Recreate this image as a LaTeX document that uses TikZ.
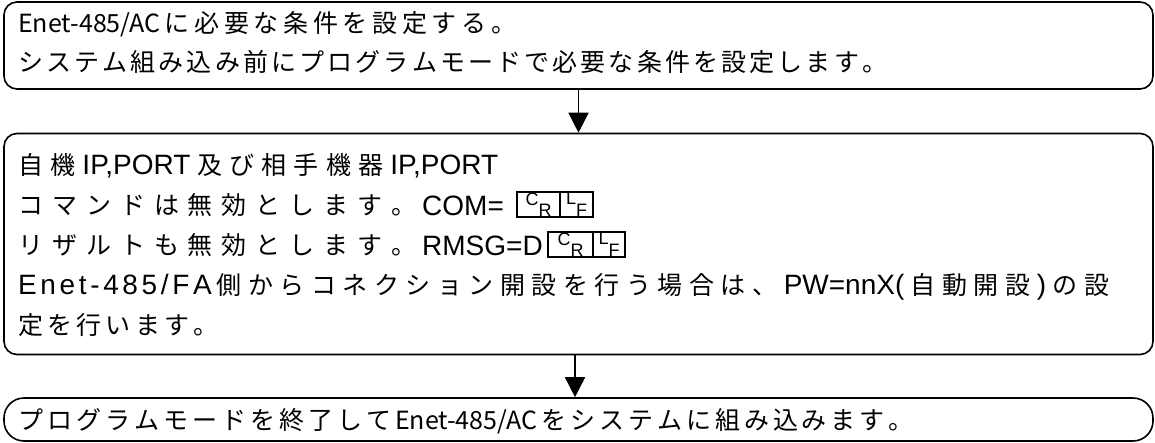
\documentclass[tikz,border=0pt]{standalone}
\usepackage{fontspec}
\usetikzlibrary{arrows.meta}
\newfontfamily\jp{Noto Sans CJK JP}
\newfontfamily\lat{Liberation Sans}
\ExplSyntaxOn
\box_new:N \l__sp_box
\dim_new:N \l__sp_dim
\int_new:N \l__sp_int
\NewDocumentCommand \spread { m m }
  {
    \hbox_set:Nn \l__sp_box { #2 }
    \int_set:Nn \l__sp_int { \tl_count:n { #2 } - 1 }
    \dim_set:Nn \l__sp_dim
      { ( \dim_eval:n { #1 } - \box_wd:N \l__sp_box ) / \l__sp_int }
    \hbox_to_wd:nn { \dim_eval:n { #1 } }
      {
        \tl_map_inline:nn { #2 } { ##1 \hskip \l__sp_dim }
        \hskip -\l__sp_dim
      }
  }
\ExplSyntaxOff
\newcommand\lt[1]{{\lat\fontsize{28}{30}\selectfont #1}}
\newcommand\crlf[2]{\raisebox{5pt}{#1}\raisebox{-6.5pt}{#2}}
\tikzset{
  flowbox/.style={draw, line width=1.6pt, minimum width=1149pt, inner sep=0pt},
  jtext/.style={anchor=base west, inner sep=0pt, font=\jp\fontsize{25}{30}\selectfont},
  ltext/.style={anchor=base west, inner sep=0pt, font=\lat\fontsize{28}{32}\selectfont},
  cell/.style={draw, line width=1.1pt, minimum height=25pt, inner sep=0pt, font=\lat\fontsize{18}{20}\selectfont},
  flowarrow/.style={line width=1.6pt, -{Triangle[width=20pt,length=20pt]}}
}
\begin{document}
\begin{tikzpicture}[x=1pt,y=-1pt]
\useasboundingbox (0,0) rectangle (1155,443);
% boxes
\node[flowbox, rounded corners=13pt, minimum height=87pt] (b1) at (578.5,45.5) {};
\node[flowbox, rounded corners=13pt, minimum height=221pt] (b2) at (578.5,244) {};
\node[flowbox, rounded corners=20pt, minimum height=43pt] (b3) at (578.5,419.5) {};
% box 1 text
\node[jtext] (t11) at (18,32.5) {\spread{498pt}{{Enet-485/AC}に必要な条件を設定する。}};
\node[jtext] (t12) at (18,71.5) {\spread{865pt}{システム組み込み前にプログラムモードで必要な条件を設定します。}};
% box 2 text
\node[jtext] (t21) at (18,174.5) {\spread{480pt}{自機{\lt{IP,PORT}}及び相手機器{\lt{IP,PORT}}}};
\node[jtext] (t22) at (18,214.5) {\spread{396pt}{コマンドは無効とします。}};
\node[ltext] (com) at (422,216) {COM=};
\node[cell, minimum width=43pt] (cr1) at (538.5,204.5) {\crlf{C}{R}};
\node[cell, minimum width=33pt] (lf1) at (576.5,204.5) {\crlf{L}{F}};
\node[jtext] (t23) at (18,254.5) {\spread{396pt}{リザルトも無効とします。}};
\node[ltext] (rmsg) at (422,256) {RMSG=D};
\node[cell, minimum width=45pt] (cr2) at (570.5,244.5) {\crlf{C}{R}};
\node[cell, minimum width=32pt] (lf2) at (609,244.5) {\crlf{L}{F}};
\node[jtext] (t24) at (18,294.5) {\spread{1091pt}{{\lt{\spread{192pt}{Enet-485/FA}}}側からコネクション開設を行う場合は、{\lt{PW=nnX(}}自動開設{\lt{)}}の設}};
\node[jtext] (t25) at (18,334.5) {\spread{198pt}{定を行います。}};
% box 3 text
\node[jtext] (t31) at (18,429.5) {\spread{891pt}{プログラムモードを終了して{Enet-485/AC}をシステムに組み込みます。}};
% arrows
\draw[flowarrow] (b1.south) -- (b2.north);
\draw[flowarrow] ([xshift=-3.5pt]b2.south) -- ([xshift=-3.5pt]b3.north);
\end{tikzpicture}
\end{document}
